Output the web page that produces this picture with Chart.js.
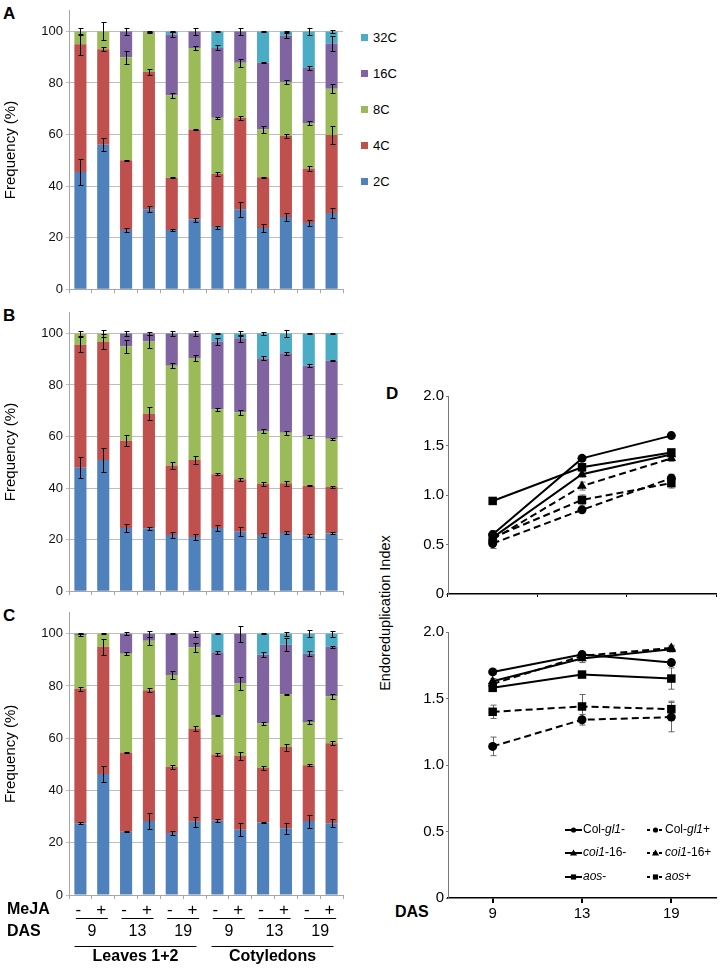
<!DOCTYPE html>
<html>
<head>
<meta charset="utf-8">
<script src="https://cdn.jsdelivr.net/npm/chart.js@4.4.0/dist/chart.umd.min.js"></script>
<style>
  body { margin:0; background:#fff; width:722px; height:968px; position:relative; overflow:hidden;
         font-family:"Liberation Sans", Arial, sans-serif; color:#000; }
  canvas { position:absolute; }
  .letter { position:absolute; font-weight:bold; font-size:17px; line-height:17px; }
  .lg { position:absolute; left:361px; font-size:13px; line-height:14px; }
  .lg span { display:inline-block; width:7px; height:7px; margin-right:5px; vertical-align:1px; }
  .ytitle { position:absolute; font-size:14.5px; white-space:nowrap; transform:rotate(-90deg); transform-origin:center; text-align:center; }
</style>
</head>
<body>
<div class="letter" style="left:3px;top:5px">A</div>
<div class="letter" style="left:3px;top:307px">B</div>
<div class="letter" style="left:3px;top:607px">C</div>
<div class="letter" style="left:386px;top:385px">D</div>
<div id="legend"></div>
<div class="ytitle" id="endoTitle">Endoreduplication Index</div>
<div style="position:absolute;left:395px;top:903px;font-weight:bold;font-size:16px">DAS</div>

<canvas id="chartA" width="346" height="300" style="left:0;top:0"></canvas>
<canvas id="chartB" width="346" height="300" style="left:0;top:302px"></canvas>
<canvas id="chartC" width="346" height="366" style="left:0;top:602px"></canvas>
<canvas id="chartDup" width="322" height="220" style="left:400px;top:385px"></canvas>
<canvas id="chartDlo" width="322" height="308" style="left:400px;top:620px"></canvas>

<script>
// ---- stacked bars (A, B, C) ----
const ploidy = ['2C', '4C', '8C', '16C', '32C'];
const ploidyColors = ['#4f81bd', '#c0504d', '#9bbb59', '#8064a2', '#4bacc6'];
const mejaLabels = ['-', '+', '-', '+', '-', '+', '-', '+', '-', '+', '-', '+'];
const dasLabels = ['9', '13', '19', '9', '13', '19'];
const tissueLabels = ['Leaves 1+2', 'Cotyledons'];

const A_2C  = [45.5, 56, 23, 31, 23, 27, 24.1, 31, 23.7, 28, 25.7, 29.6];
const A_4C  = [49.5, 37.1, 27, 53.3, 20.2, 35, 20.6, 35.5, 19.7, 31.4, 21.1, 30.2];
const A_8C  = [5, 6.9, 40, 15.3, 32, 31.6, 21.8, 21.3, 18.6, 20.9, 17.7, 18];
const A_16C = [0, 0, 10, 0.4, 23.6, 6.4, 27.1, 12.2, 25.8, 18, 21.3, 17.5];
const A_32C = [0, 0, 0, 0, 1.2, 0, 6.4, 0, 12.2, 1.7, 14.2, 4.7];
const eA_2C  = [5, 2.5, 0.7, 1.2, 0.3, 0.8, 0.6, 3, 1.5, 1.5, 1.2, 1.8];
const eA_4C  = [4, 0.8, 0.2, 1.2, 0.2, 0.2, 0.6, 0.7, 0.2, 0.8, 0.8, 3.5];
const eA_8C  = [1.5, 3.5, 2.5, 0.3, 1, 0.8, 0.3, 1.5, 1.5, 0.8, 0.8, 1.8];
const eA_16C = [0, 0, 1.5, 0.2, 1, 1.5, 1, 1.5, 0.2, 1, 0.8, 3];
const eA_32C = [0, 0, 0, 0, 0.3, 0, 0.2, 0, 0.2, 0.3, 1.5, 0.7];

const B_2C  = [47.9, 50.9, 24.5, 24.4, 21.8, 21, 24.5, 23.1, 21.8, 22.6, 21.5, 22.4];
const B_4C  = [47.7, 45.9, 33.9, 44.4, 27, 29.9, 20.9, 20.3, 19.8, 19.3, 19.4, 18];
const B_8C  = [4.4, 3.2, 36.6, 28.1, 38.7, 39.6, 25.1, 26, 20.5, 19.6, 19.1, 18.7];
const B_16C = [0, 0, 5, 3.1, 12.5, 9.5, 26.4, 28.7, 28.3, 30.8, 27.5, 30.3];
const B_32C = [0, 0, 0, 0, 0, 0, 3.1, 1.9, 9.6, 7.7, 12.5, 10.6];
const eB_2C  = [4, 4.5, 1.5, 0.5, 1.2, 1.2, 1.2, 1.8, 0.6, 0.6, 0.6, 0.4];
const eB_4C  = [3, 3, 2.2, 2.5, 1.5, 1.5, 0.3, 0.5, 0.6, 1, 0.2, 0.5];
const eB_8C  = [1, 1.2, 2.5, 2.5, 1, 1.2, 0.5, 1, 0.8, 0.8, 0.6, 0.3];
const eB_16C = [0, 0, 1, 0.7, 1, 1, 1.2, 1.3, 0.8, 0.6, 0.5, 0.2];
const eB_32C = [0, 0, 0, 0, 0, 0, 0.3, 1, 0.6, 1.5, 0.2, 0.2];

const C_2C  = [27.5, 46.3, 24.2, 28.3, 23.7, 28, 28.4, 25, 27.7, 25.5, 28.3, 27.5];
const C_4C  = [51.4, 48.7, 30.3, 50.1, 25.4, 35.7, 25.4, 28.2, 20.9, 31.1, 21.4, 30.6];
const C_8C  = [20.6, 5, 37.8, 18.9, 35.1, 31.1, 14.9, 27.7, 17, 20.2, 16.5, 18];
const C_16C = [0.5, 0, 7.7, 2.7, 15.8, 5.2, 24.2, 19.1, 26.3, 19, 26.1, 18.9];
const C_32C = [0, 0, 0, 0, 0, 0, 7.1, 0, 8.1, 4.2, 7.7, 5];
const eC_2C  = [0.5, 3, 0.2, 3, 0.8, 2, 0.6, 2.5, 0.2, 2.2, 2.5, 1.5];
const eC_4C  = [0.8, 3, 0.2, 0.8, 0.8, 0.8, 0.5, 1.5, 0.6, 1.3, 0.5, 0.8];
const eC_8C  = [0.3, 0.3, 0.6, 1.5, 1.5, 1.8, 0.3, 2.5, 0.6, 0.3, 0.8, 1];
const eC_16C = [0.3, 0, 0.5, 1.2, 0.3, 1.2, 0.5, 3, 1, 2.5, 1, 0.3];
const eC_32C = [0, 0, 0, 0, 0, 0, 0.3, 0, 0.3, 0.8, 1.3, 1.2];

// ---- endoreduplication index (D) ----
const days = ['9', '13', '19'];
const dLabels = ['Col-gl1-', 'coi1-16-', 'aos-', 'Col-gl1+', 'coi1-16+', 'aos+'];

const upColMinus = [0.60, 1.37, 1.60];
const upCoiMinus = [0.57, 1.21, 1.41];
const upAosMinus = [0.94, 1.28, 1.43];
const upColPlus  = [0.51, 0.85, 1.17];
const upCoiPlus  = [0.55, 1.09, 1.37];
const upAosPlus  = [0.57, 0.95, 1.12];
const eUpColMinus = [0.03, 0.02, 0.02];
const eUpCoiMinus = [0.04, 0.03, 0.02];
const eUpAosMinus = [0.02, 0.03, 0.03];
const eUpColPlus  = [0.05, 0.02, 0.04];
const eUpCoiPlus  = [0.04, 0.04, 0.03];
const eUpAosPlus  = [0.07, 0.05, 0.05];

const loColMinus = [1.70, 1.83, 1.77];
const loCoiMinus = [1.63, 1.80, 1.87];
const loAosMinus = [1.58, 1.68, 1.65];
const loColPlus  = [1.14, 1.34, 1.36];
const loCoiPlus  = [1.61, 1.82, 1.88];
const loAosPlus  = [1.40, 1.44, 1.42];
const eLoColMinus = [0.02, 0.02, 0.02];
const eLoCoiMinus = [0.02, 0.03, 0.02];
const eLoAosMinus = [0.02, 0.02, 0.08];
const eLoColPlus  = [0.07, 0.04, 0.11];
const eLoCoiPlus  = [0.02, 0.02, 0.02];
const eLoAosPlus  = [0.05, 0.09, 0.06];

const FONT = '"Liberation Sans", Arial, sans-serif';
Chart.defaults.font.family = FONT;
Chart.defaults.color = '#000';
Chart.defaults.animation = false;

// html legend for the ploidy colours (32C on top)
const legend = document.getElementById('legend');
ploidy.slice().reverse().forEach((p, k) => {
  const i = ploidy.length - 1 - k;
  const d = document.createElement('div');
  d.className = 'lg';
  d.style.top = (31 + k * 36) + 'px';
  d.innerHTML = `<span style="background:${ploidyColors[i]}"></span>${p}`;
  legend.appendChild(d);
});

const endo = document.getElementById('endoTitle');
endo.style.left = (385 - 90) + 'px';
endo.style.top = (614 - 9) + 'px';
endo.style.width = '180px';

// error bars at the top of every stacked segment
const stackErrorBars = {
  id: 'stackErrorBars',
  afterDatasetsDraw(chart) {
    const ctx = chart.ctx, y = chart.scales.y;
    const sets = chart.data.datasets;
    ctx.save();
    ctx.strokeStyle = '#000';
    ctx.lineWidth = 1;
    sets.forEach((ds, i) => {
      const meta = chart.getDatasetMeta(i);
      ds.data.forEach((v, j) => {
        const e = ds.errors[j];
        if (!v || !e) return;
        let top = 0;
        for (let k = 0; k <= i; k++) top += sets[k].data[j];
        const x = Math.round(meta.data[j].x) + 0.5;
        const y1 = Math.round(y.getPixelForValue(top + e)) + 0.5;
        const y2 = Math.round(y.getPixelForValue(top - e)) + 0.5;
        ctx.beginPath();
        ctx.moveTo(x, y1); ctx.lineTo(x, y2);
        ctx.moveTo(x - 2, y1); ctx.lineTo(x + 3, y1);
        ctx.moveTo(x - 2, y2); ctx.lineTo(x + 3, y2);
        ctx.stroke();
      });
    });
    ctx.restore();
  }
};

// MeJA / DAS / tissue rows under panel C
const groupLabels = {
  id: 'groupLabels',
  afterDraw(chart) {
    const x = chart.scales.x, ctx = chart.ctx, base = chart.chartArea.bottom;
    ctx.save();
    ctx.fillStyle = '#000';
    ctx.strokeStyle = '#000';
    ctx.lineWidth = 1;
    ctx.textBaseline = 'middle';
    ctx.font = 'bold 16px ' + FONT;
    ctx.textAlign = 'left';
    ctx.fillText('MeJA', 7, base + 15);
    ctx.fillText('DAS', 7, base + 37);
    ctx.textAlign = 'center';
    ctx.font = '17px ' + FONT;
    mejaLabels.forEach((m, i) => ctx.fillText(m, x.getPixelForValue(i) - 2, base + 15));
    ctx.font = '16px ' + FONT;
    dasLabels.forEach((d, p) => {
      const c = (x.getPixelForValue(2 * p) + x.getPixelForValue(2 * p + 1)) / 2;
      ctx.beginPath();
      ctx.moveTo(c - 16, base + 23.5); ctx.lineTo(c + 16, base + 23.5);
      ctx.stroke();
      ctx.fillText(d, c, base + 37);
    });
    ctx.font = 'bold 16px ' + FONT;
    tissueLabels.forEach((t, g) => {
      const c = (x.getPixelForValue(6 * g) + x.getPixelForValue(6 * g + 5)) / 2 - 2;
      ctx.beginPath();
      ctx.moveTo(c - 61, base + 51.5); ctx.lineTo(c + 61, base + 51.5);
      ctx.stroke();
      ctx.fillText(t, c, base + 62);
    });
    ctx.restore();
  }
};

function stackChart(id, series, errors, bottomHeight, extra) {
  const labels = mejaLabels.map((m, i) => dasLabels[Math.floor(i / 2)] + ' ' + m);
  return new Chart(document.getElementById(id), {
    type: 'bar',
    data: {
      labels: labels,
      datasets: series.map((s, i) => ({
        label: ploidy[i],
        data: s,
        errors: errors[i],
        backgroundColor: ploidyColors[i],
        borderWidth: 0,
        barPercentage: 0.53,
        categoryPercentage: 1
      }))
    },
    options: {
      responsive: false,
      devicePixelRatio: 1,
      layout: { padding: { top: 3, right: 3, left: 0, bottom: 0 } },
      plugins: { legend: { display: false }, tooltip: { enabled: false } },
      scales: {
        x: {
          stacked: true,
          ticks: { display: false },
          grid: { drawOnChartArea: false, drawTicks: true, tickLength: 4, offset: true, color: '#a6a6a6' },
          border: { color: '#a6a6a6' },
          afterFit: s => { s.height = bottomHeight; }
        },
        y: {
          stacked: true,
          min: 0, max: 108,
          ticks: { stepSize: 20, font: { size: 13 }, color: '#111', padding: 3 },
          afterBuildTicks: s => { s.ticks = s.ticks.filter(t => t.value <= 100); },
          grid: { color: '#bdbdbd', tickLength: 3 },
          border: { color: '#a6a6a6' },
          title: { display: true, text: 'Frequency (%)', font: { size: 15 }, padding: { top: 2, bottom: 0 } },
          afterFit: s => { s.width = 69; }
        }
      }
    },
    plugins: [stackErrorBars].concat(extra || [])
  });
}

stackChart('chartA', [A_2C, A_4C, A_8C, A_16C, A_32C], [eA_2C, eA_4C, eA_8C, eA_16C, eA_32C], 9);
stackChart('chartB', [B_2C, B_4C, B_8C, B_16C, B_32C], [eB_2C, eB_4C, eB_8C, eB_16C, eB_32C], 9);
stackChart('chartC', [C_2C, C_4C, C_8C, C_16C, C_32C], [eC_2C, eC_4C, eC_8C, eC_16C, eC_32C], 73, [groupLabels]);

// ---- panel D ----
const dShapes = ['circle', 'triangle', 'rect', 'circle', 'triangle', 'rect'];
const dDashed = [false, false, false, true, true, true];
const dRadius = { circle: 4.5, triangle: 5.5, rect: 6 };

function lineSets(series, errors) {
  return series.map((s, i) => ({
    label: dLabels[i],
    data: s,
    errors: errors[i],
    borderColor: '#000',
    backgroundColor: '#000',
    borderWidth: 2,
    borderDash: dDashed[i] ? [7, 4] : [],
    pointStyle: dShapes[i],
    pointRadius: dRadius[dShapes[i]],
    pointBorderWidth: 0,
    tension: 0,
    clip: false
  }));
}

const lineErrorBars = {
  id: 'lineErrorBars',
  beforeDatasetsDraw(chart) {
    const ctx = chart.ctx, y = chart.scales.y;
    ctx.save();
    ctx.strokeStyle = '#666';
    ctx.lineWidth = 1;
    chart.data.datasets.forEach((ds, i) => {
      const meta = chart.getDatasetMeta(i);
      ds.data.forEach((v, j) => {
        const e = ds.errors[j];
        const x = Math.round(meta.data[j].x) + 0.5;
        const y1 = y.getPixelForValue(v + e), y2 = y.getPixelForValue(v - e);
        ctx.beginPath();
        ctx.moveTo(x, y1); ctx.lineTo(x, y2);
        ctx.moveTo(x - 3, y1); ctx.lineTo(x + 3, y1);
        ctx.moveTo(x - 3, y2); ctx.lineTo(x + 3, y2);
        ctx.stroke();
      });
    });
    ctx.restore();
  }
};

function marker(ctx, shape, x, y, r) {
  ctx.beginPath();
  if (shape === 'circle') ctx.arc(x, y, r, 0, Math.PI * 2);
  else if (shape === 'rect') ctx.rect(x - r, y - r, 2 * r, 2 * r);
  else { ctx.moveTo(x, y - r - 1); ctx.lineTo(x + r + 1, y + r); ctx.lineTo(x - r - 1, y + r); ctx.closePath(); }
  ctx.fill();
}

// two-column legend inside the lower D panel, with italic gene names
const dLegend = {
  id: 'dLegend',
  afterDraw(chart) {
    const ctx = chart.ctx, a = chart.chartArea;
    const cols = [a.left + 117, a.left + 199];
    const rows = [a.bottom - 68, a.bottom - 45, a.bottom - 21];
    ctx.save();
    ctx.fillStyle = '#000';
    ctx.strokeStyle = '#000';
    ctx.textBaseline = 'middle';
    ctx.textAlign = 'left';
    dLabels.forEach((lab, i) => {
      const x = cols[Math.floor(i / 3)], y = rows[i % 3];
      ctx.lineWidth = 2;
      ctx.setLineDash(dDashed[i] ? [3, 3] : []);
      ctx.beginPath(); ctx.moveTo(x, y); ctx.lineTo(x + 17, y); ctx.stroke();
      ctx.setLineDash([]);
      marker(ctx, dShapes[i], x + 8.5, y, 2.6);
      let tx = x + 18;
      lab.split(/(gl1|coi1|aos)/).forEach(part => {
        if (!part) return;
        ctx.font = (/^(gl1|coi1|aos)$/.test(part) ? 'italic ' : '') + '12px ' + FONT;
        ctx.fillText(part, tx, y);
        tx += ctx.measureText(part).width;
      });
    });
    ctx.restore();
  }
};

function dChart(id, series, errors, lower) {
  return new Chart(document.getElementById(id), {
    type: 'line',
    data: { labels: days, datasets: lineSets(series, errors) },
    options: {
      responsive: false,
      devicePixelRatio: 1,
      layout: { padding: { top: lower ? 12 : 8, right: 2, left: 0, bottom: 0 } },
      plugins: { legend: { display: false }, tooltip: { enabled: false } },
      scales: {
        x: {
          offset: true,
          ticks: { display: lower, font: { size: 15 }, color: '#000', padding: 2, maxRotation: 0 },
          grid: { drawOnChartArea: false, drawTicks: true, tickLength: lower ? 5 : 3, offset: !lower, color: '#000', lineWidth: lower ? 2 : 1 },
          border: { color: '#000', width: 1.5 },
          afterFit: s => { s.height = lower ? 30 : 7; }
        },
        y: {
          min: 0, max: 2,
          ticks: { stepSize: 0.5, font: { size: 15 }, color: '#000', padding: 2,
                   callback: v => v === 0 ? '0' : v.toFixed(1) },
          grid: { drawOnChartArea: false, drawTicks: true, tickLength: 2, color: '#777' },
          border: { color: '#777' },
          afterFit: s => { s.width = 48; }
        }
      }
    },
    plugins: lower ? [lineErrorBars, dLegend] : [lineErrorBars]
  });
}

dChart('chartDup',
  [upColMinus, upCoiMinus, upAosMinus, upColPlus, upCoiPlus, upAosPlus],
  [eUpColMinus, eUpCoiMinus, eUpAosMinus, eUpColPlus, eUpCoiPlus, eUpAosPlus], false);
dChart('chartDlo',
  [loColMinus, loCoiMinus, loAosMinus, loColPlus, loCoiPlus, loAosPlus],
  [eLoColMinus, eLoCoiMinus, eLoAosMinus, eLoColPlus, eLoCoiPlus, eLoAosPlus], true);
</script>
</body>
</html>
